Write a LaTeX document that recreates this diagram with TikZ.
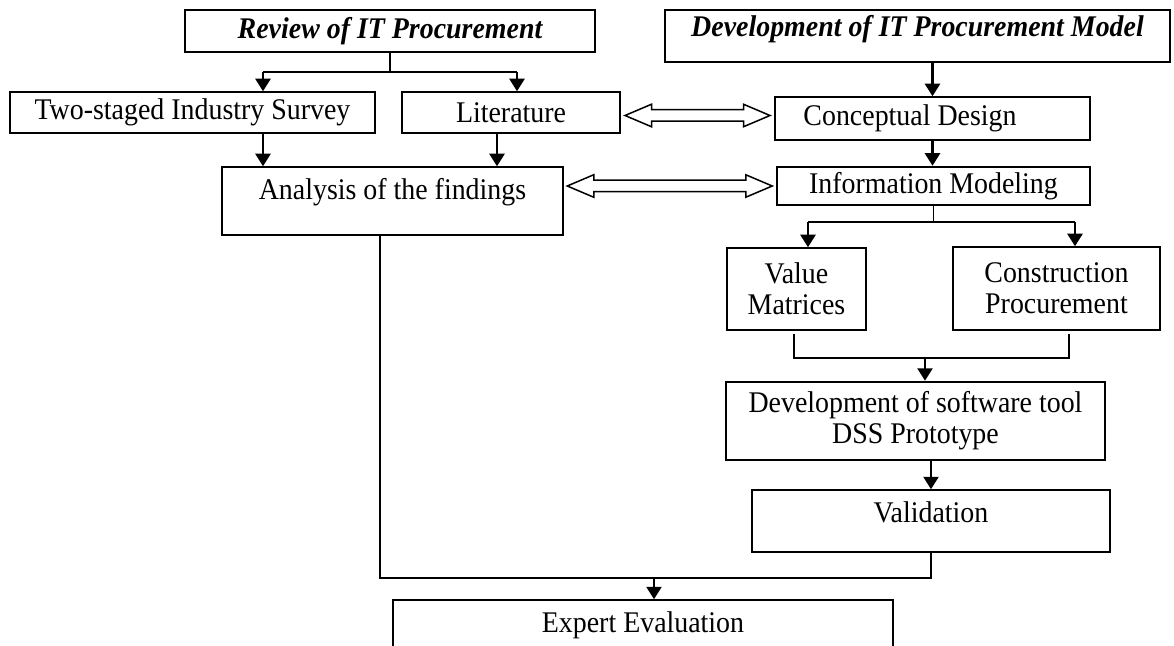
\documentclass[tikz,border=0pt]{standalone}
\usepackage{fontspec}
\setmainfont{Liberation Serif}[FakeStretch=0.93]
\usetikzlibrary{arrows.meta,shapes.arrows,calc}
\begin{document}
\begin{tikzpicture}[x=0.4pt,y=-0.4pt,
  box/.style={draw, line width=0.6pt, inner sep=1pt, align=center, font=\fontsize{12}{12.5}\selectfont},
  heavy/.style={box, line width=1pt},
  toptext/.style={text height=9pt, text depth=#1},
  arr/.style={-{Triangle[width=6pt,length=5pt]}, line width=1pt},
  link/.style={line width=0.5pt},
  dblarr/.style={double arrow, draw, line width=0.6pt, inner xsep=0pt, inner ysep=2pt, double arrow head extend=2.2pt, double arrow tip angle=46}]
\useasboundingbox (0,0) rectangle (1174,646);
\clip (0,0) rectangle (1174,646);
\node [box, minimum width=164pt, minimum height=16.8pt, font=\fontsize{12}{12.5}\selectfont\bfseries\itshape] (rev) at (390,31) {Review of IT Procurement};
\node [box, toptext=8.2pt, minimum width=202pt, minimum height=20.8pt, font=\fontsize{12}{12.5}\selectfont\bfseries\itshape] (dev) at (917.5,36) {Development of IT Procurement Model};
\node [box, minimum width=146pt, minimum height=16.4pt] (two) at (192.5,112.5) {Two-staged Industry Survey};
\node [box, minimum width=87.2pt, minimum height=16.4pt] (lit) at (511,112.5) {Literature};
\node [box, minimum width=126pt, minimum height=17.2pt] (cd) at (932.5,118.5) {Conceptual Design\hspace*{18pt}};
\node [box, toptext=9.8pt, minimum width=136.4pt, minimum height=27.2pt] (ana) at (392.5,201) {Analysis of the findings};
\node [heavy, minimum width=125.2pt, minimum height=15.2pt] (im) at (933.5,186) {Information Modeling};
\node [box, minimum width=55.6pt, minimum height=32.8pt] (vm) at (796.5,289) {Value\\Matrices};
\node [box, minimum width=82.8pt, minimum height=33.2pt] (cp) at (1056.5,288.5) {Construction\\Procurement};
\node [heavy, minimum width=151.6pt, minimum height=31.2pt] (dss) at (915.5,421) {Development of software tool\\DSS Prototype};
\node [box, toptext=8.2pt, minimum width=143.2pt, minimum height=24.8pt] (val) at (931,521) {Validation};
\node [box, toptext=11.4pt, minimum width=200pt, minimum height=28pt] (exp) at (643,635) {Expert Evaluation};
\node [dblarr, minimum height=58pt] (da1) at ($(lit.east)!0.5!(cd.west)$) {};
\node [dblarr, minimum height=82pt] (da2) at ($(ana.east |- im.west)!0.5!(im.west)$) {};
\coordinate (a1) at (263,72);
\coordinate (a2) at (517,72);
\coordinate (a3) at (497,150);
\coordinate (b1) at (808,222);
\coordinate (b2) at (1075,222);
\coordinate (c1) at (794,358);
\coordinate (c2) at (1069,358);
\coordinate (c3) at (925,358);
\coordinate (d1) at (380,578);
\coordinate (d2) at (654,578);
\draw [link] (rev.south) |- (a1);
\draw [link] (rev.south) |- (a2);
\draw [arr] (a1) -- (a1 |- two.north);
\draw [arr] (a2) -- (a2 |- lit.north);
\draw [arr] (a1 |- two.south) -- (a1 |- ana.north);
\draw [arr] (a3 |- lit.south) -- (a3 |- ana.north);
\draw [arr] (dev.south -| cd.north) -- (cd.north);
\draw [arr] (cd.south) -- (cd.south |- im.north);
\draw [link] (im.south) -- (im.south |- b1);
\draw [link] (b1) -- (b2);
\draw [arr] (b1) -- (b1 |- vm.north);
\draw [arr] (b2) -- (b2 |- cp.north);
\draw [link, shorten <=1.2pt, shorten >=1.2pt] (c1 |- vm.south) -- (c1) -- (c2) -- (c2 |- cp.south);
\draw [arr] (c3) -- (c3 |- dss.north);
\draw [arr] (dss.south -| val.north) -- (val.north);
\draw [link] (d1 |- ana.south) -- (d1) -- (d1 -| val.south) -- (val.south);
\draw [arr] (d2) -- (d2 |- exp.north);
\end{tikzpicture}
\end{document}
